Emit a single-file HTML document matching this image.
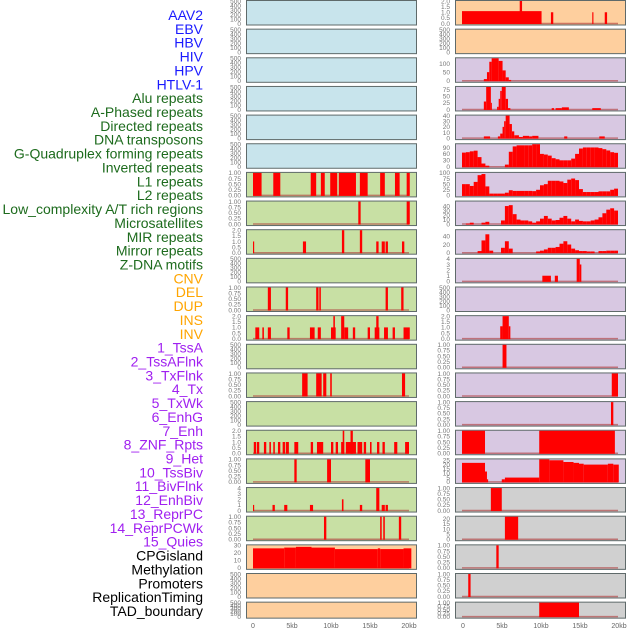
<!DOCTYPE html>
<html><head><meta charset="utf-8"><style>
html,body{margin:0;padding:0;background:#fff;width:630px;height:630px;overflow:hidden}
svg{display:block;font-family:"Liberation Sans",sans-serif}
</style></head><body>
<svg id="c" width="630" height="630" viewBox="0 0 630 630"></svg>
<script>
// ---- data ----
const labels = ["AAV2","EBV","HBV","HIV","HPV","HTLV-1","Alu repeats","A-Phased repeats","Directed repeats","DNA transposons","G-Quadruplex forming repeats","Inverted repeats","L1 repeats","L2 repeats","Low_complexity A/T rich regions","Microsatellites","MIR repeats","Mirror repeats","Z-DNA motifs","CNV","DEL","DUP","INS","INV","1_TssA","2_TssAFlnk","3_TxFlnk","4_Tx","5_TxWk","6_EnhG","7_Enh","8_ZNF_Rpts","9_Het","10_TssBiv","11_BivFlnk","12_EnhBiv","13_ReprPC","14_ReprPCWk","15_Quies","CPGisland","Methylation","Promoters","ReplicationTiming","TAD_boundary"];
const labelColors = ["#1a1aff","#1a1aff","#1a1aff","#1a1aff","#1a1aff","#1a1aff","#1d6b1d","#1d6b1d","#1d6b1d","#1d6b1d","#1d6b1d","#1d6b1d","#1d6b1d","#1d6b1d","#1d6b1d","#1d6b1d","#1d6b1d","#1d6b1d","#1d6b1d","#ffa500","#ffa500","#ffa500","#ffa500","#ffa500","#a020f0","#a020f0","#a020f0","#a020f0","#a020f0","#a020f0","#a020f0","#a020f0","#a020f0","#a020f0","#a020f0","#a020f0","#a020f0","#a020f0","#a020f0","#000","#000","#000","#000","#000"];
const xTicks = [0,5,10,15,20];
const xTickLabels = ["0","5kb","10kb","15kb","20kb"];
const T500=[0,100,200,300,400,500], T1=[0,0.25,0.5,0.75,1], T2=[0,0.5,1,1.5,2], T4=[0,1,2,3,4];
// left column segments [startKb,endKb,value]
const L6=[[0,1.1,1],[2.6,3.5,1],[7.4,8.1,1],[8.7,9.2,1],[9.9,10.8,1],[11,13.2,1],[13.7,14.7,1],[16.3,16.9,1],[18.2,18.8,1],[19.7,20.1,1]];
const L7=[[13.5,13.8,1],[19.7,20.1,1]];
const L8=[[0,0.15,1],[6.4,6.8,1],[11.4,11.7,2],[13.7,14,2],[15.8,16.1,1],[16.5,16.9,1],[17,17.3,1],[19.1,19.4,1]];
const L10=[[1.9,2.3,1],[4.2,4.5,1],[8.1,8.4,1],[8.5,8.7,1],[17,17.3,1],[19,19.3,1]];
const L11=[[0.3,0.8,1],[1.2,1.4,1],[1.9,2.3,1],[4.4,4.7,1],[7.3,7.9,1],[8.3,8.7,1],[10,10.6,1],[10.3,10.5,2],[11.3,11.7,2],[11.7,12.2,1],[12.8,13.1,1],[14.7,15,1],[15.6,16.2,1],[15.8,16.1,2],[16.8,17.3,1],[17.9,18.2,1],[19.3,20.1,1]];
const L13=[[6.3,7,1],[8.1,8.8,1],[9,9.4,1],[9.9,10.1,1],[19.1,19.5,1]];
const L15=[[0.1,0.4,1],[0.5,0.8,1],[1.4,1.7,1],[2.1,2.3,1],[2.6,2.8,1],[3.2,3.5,1],[3.8,4.1,1],[4.2,4.6,1],[5.3,5.8,1],[7.4,7.7,1],[8.2,9,1],[10,10.3,1],[10.6,10.9,1],[11.3,11.7,1],[11.5,11.7,2],[11.9,13.2,1],[12.5,12.8,2],[13.4,14,1],[14.2,14.5,1],[15,15.2,1],[15.9,16.2,1],[16.6,16.9,1],[18.1,18.5,1],[19.5,20,1]];
const L16=[[5.3,5.6,1],[9.5,10,1],[14.4,15,1]];
const L17=[[0,0.15,1],[2.5,2.8,1],[4,4.4,1],[7.3,7.7,1],[11.4,11.6,2],[13.7,14,1],[15.8,16.2,4],[16.5,16.9,1],[17,17.3,1]];
const L18=[[9.1,9.4,1],[16.3,16.5,1],[16.7,16.9,1],[18.7,19,1]];
const L19=[[0,4,26],[4,5.5,27],[5.5,7.5,28],[7.5,10.5,27],[10.5,16,25],[16,16.3,26],[16.3,19.3,25],[19.3,20.3,26]];
// right column
const R0=[[0,10.2,1.1],[7.4,7.7,2],[11.4,11.7,1],[16.7,16.85,1],[18.3,18.6,1]];
const R2=[[2.8,3.2,10],[3.2,3.5,50],[3.5,3.8,110],[3.8,4.7,130],[4.7,5.2,115],[5.2,5.6,60],[5.6,6,20],[6,6.3,5]];
const R3=[[2.8,3.1,30],[3.1,3.7,85],[3.7,3.8,25],[4.5,4.7,10],[4.7,4.9,40],[4.9,5.1,70],[5.1,5.6,85],[5.6,5.9,40],[5.9,6.2,5],[11.5,11.8,5],[12,12.8,5],[12.8,13.7,8],[16.7,17.8,5]];
const R4=[[2.8,3.6,3],[4.6,4.9,3],[4.9,5.2,8],[5.2,5.4,20],[5.4,5.6,30],[5.6,6.1,40],[6.1,6.4,25],[6.4,6.7,12],[6.7,7.3,5],[7.3,7.8,2],[7.8,8.6,4],[8.6,9,3],[9,9.8,4],[13.1,13.5,3],[17.6,18.3,3]];
const R5bins=[66,68,72,75,45,15,5,0,0,0,0,10,70,95,100,100,100,100,105,105,60,57,52,40,35,30,30,30,38,60,85,90,90,90,90,87,82,76,68,65];
const R6bins=[50,50,42,60,90,95,40,8,8,8,8,12,23,20,20,20,20,20,19,25,45,50,65,65,65,62,55,70,75,68,28,15,15,15,15,18,18,18,25,30];
const R7bins=[0,1,3,0,0,3,5,0,0,0,8,40,42,22,10,8,8,6,3,6,12,18,12,8,9,14,18,12,6,10,7,6,6,8,10,15,24,32,35,30];
const R8bins=[0,0,0,0,4,30,45,5,0,0,12,28,10,0,0,0,0,0,0,3,5,8,12,12,14,22,28,20,10,6,4,4,3,3,0,4,4,5,5,5];
const R9=[[10.3,11.4,1],[11.9,12.3,1],[14.7,15.1,4],[15.1,15.3,3]];
const R11=[[4.9,5.2,1.1],[5.2,6,2],[6,6.2,1.1]];
const R12=[[5.2,5.7,1]];
const R13=[[19.2,20,1]];
const R14=[[19.1,19.4,1]];
const R15=[[0,2.95,1],[9.9,19.6,1]];
const R16=[[0,2.95,22],[2.95,3.2,12],[3.2,3.35,3],[5.1,5.5,3],[5.5,9.9,5],[9.9,11.2,26],[11.2,13,25],[13,14.3,23],[14.3,15,22],[15,15.6,21],[15.6,18.7,20],[18.7,19.4,21],[19.4,20.1,20]];
const R17=[[3.7,5.1,1]];
const R18=[[5.5,7.2,22]];
const R19=[[4.4,4.7,1]];
const R20=[[0.8,1.1,1]];
const R21=[[9.9,15,1]];
function bins(a){return a.map((v,i)=>[i*0.5,i*0.5+0.5,v]);}
const BLUE="#c8e4ec",GREEN="#c8e0a4",ORANGE="#fecf9e",PURPLE="#d8c8e2",GRAY="#d0d0d0";
const leftPanels=[
 [BLUE,500,T500,null],[BLUE,500,T500,null],[BLUE,500,T500,null],[BLUE,500,T500,null],[BLUE,500,T500,null],[BLUE,500,T500,null],
 [GREEN,1,T1,L6],[GREEN,1,T1,L7],[GREEN,2,T2,L8],[GREEN,500,T500,null],[GREEN,1,T1,L10],[GREEN,2,T2,L11],[GREEN,500,T500,null],
 [GREEN,1,T1,L13],[GREEN,500,T500,null],[GREEN,2,T2,L15],[GREEN,1,T1,L16],[GREEN,4,T4,L17],[GREEN,1,T1,L18],
 [ORANGE,30,[0,10,20,30],L19],[ORANGE,500,T500,null],[ORANGE,500,T500,null]];
const rightPanels=[
 [ORANGE,2,T2,R0],[ORANGE,500,T500,null],[PURPLE,130,[0,50,100],R2],[PURPLE,85,[0,25,50,75],R3],[PURPLE,40,[0,10,20,30,40],R4],
 [PURPLE,105,[0,30,60,90],bins(R5bins)],[PURPLE,100,[0,25,50,75,100],bins(R6bins)],[PURPLE,50,[0,10,20,30,40],bins(R7bins)],
 [PURPLE,55,[0,20,40],bins(R8bins)],[PURPLE,4,T4,R9],[PURPLE,500,T500,null],[PURPLE,2,T2,R11],[PURPLE,1,T1,R12],
 [PURPLE,1,T1,R13],[PURPLE,1,T1,R14],[PURPLE,1,T1,R15],[PURPLE,26,[0,5,10,15,20,25],R16],[GRAY,1,T1,R17],
 [GRAY,22,[0,5,10,15,20],R18],[GRAY,1,T1,R19],[GRAY,1,T1,R20],[GRAY,1,T1,R21]];
// ---- drawing ----
const svg=document.getElementById('c');const NS="http://www.w3.org/2000/svg";
function mk(tag,at,parent){const e=document.createElementNS(NS,tag);for(const k in at)e.setAttribute(k,at[k]);(parent||svg).appendChild(e);return e;}
labels.forEach((t,i)=>{
 const e=mk('text',{x:203,y:15+i*13.86+5,'text-anchor':'end','font-size':14,fill:labelColors[i]});
 e.textContent=t;
 
 
});
function fmt(v,ticks){
 if(ticks===T1)return v.toFixed(2);
 if(ticks===T2)return v.toFixed(1);
 return String(v);
}
function drawPanel(px,pw,row,p,side){
 const [bg,ymax,ticks,segs]=p;
 const top=row*28.65, h=row===21?16:24.5;
 const xs=k=>px+8+k*(156/20)-1+(side?0:0);
 const ys=v=>top+h-1-(v/ymax)*(h-2);
 const g=mk('g',{});
 
 
 mk('rect',{x:px+0.5,y:top+0.5,width:pw,height:h,fill:bg,stroke:'#5f6a6a','stroke-width':1},g);
 ticks.forEach(v=>{
  const t=mk('text',{x:px-5,y:ys(v)+2.3,'text-anchor':'end','font-size':6.5,fill:'#777'},g);
  t.textContent=fmt(v,ticks);
  
  
 });
 if(segs){
  mk('line',{x1:xs(0),x2:xs(20),y1:top+h-1,y2:top+h-1,stroke:'#b03a3a','stroke-width':1.5,opacity:0.6},g);
  segs.forEach(s=>{
   if(s[2]<=0)return;
   const r=mk('rect',{x:xs(s[0]),y:ys(s[2]),width:Math.max(1,xs(s[1])-xs(s[0])),height:top+h-1-ys(s[2])+0.5,fill:'#ff0000'},g);
   
   
  });
 }
}
leftPanels.forEach((p,i)=>drawPanel(246,170,i,p,0));
rightPanels.forEach((p,i)=>drawPanel(455,170,i,p,1));
[254,464].forEach(x0=>{
 xTicks.forEach((k,i)=>{
  const t=mk('text',{x:x0+k*7.8-1,y:628,'text-anchor':'middle','font-size':7,fill:'#666'});
  t.textContent=xTickLabels[i];
  
  
 });
});
</script>
</body></html>
